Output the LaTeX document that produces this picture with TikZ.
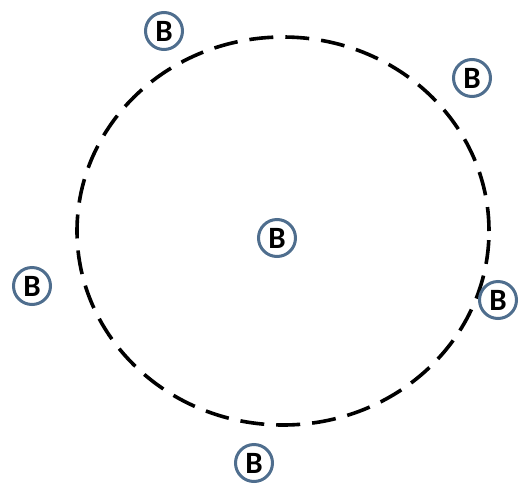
\documentclass[tikz,border=0pt]{standalone}
\usepackage{fontspec}
\setmainfont{Carlito}
\definecolor{ringblue}{HTML}{4F6E8E}
\tikzset{
  bnode/.style={circle, draw=ringblue, line width=3pt, fill=white, minimum size=37pt, inner sep=0pt, font=\fontsize{31}{31}\selectfont\bfseries},
  ring/.style={draw=black, line width=3.6pt, dash pattern=on 24pt off 12pt}
}
\begin{document}
\begin{tikzpicture}[x=1pt,y=1pt]
\useasboundingbox (0,0) rectangle (520,-491);
\draw[ring] (283,-231) ellipse [x radius=206, y radius=194];
\node[bnode] (b1) at (164,-31) {B};
\node[bnode] (b2) at (472,-78) {B};
\node[bnode] (b3) at (277,-238) {B};
\node[bnode] (b4) at (32,-286) {B};
\node[bnode] (b5) at (498,-300) {B};
\node[bnode] (b6) at (254,-463) {B};
\end{tikzpicture}
\end{document}
